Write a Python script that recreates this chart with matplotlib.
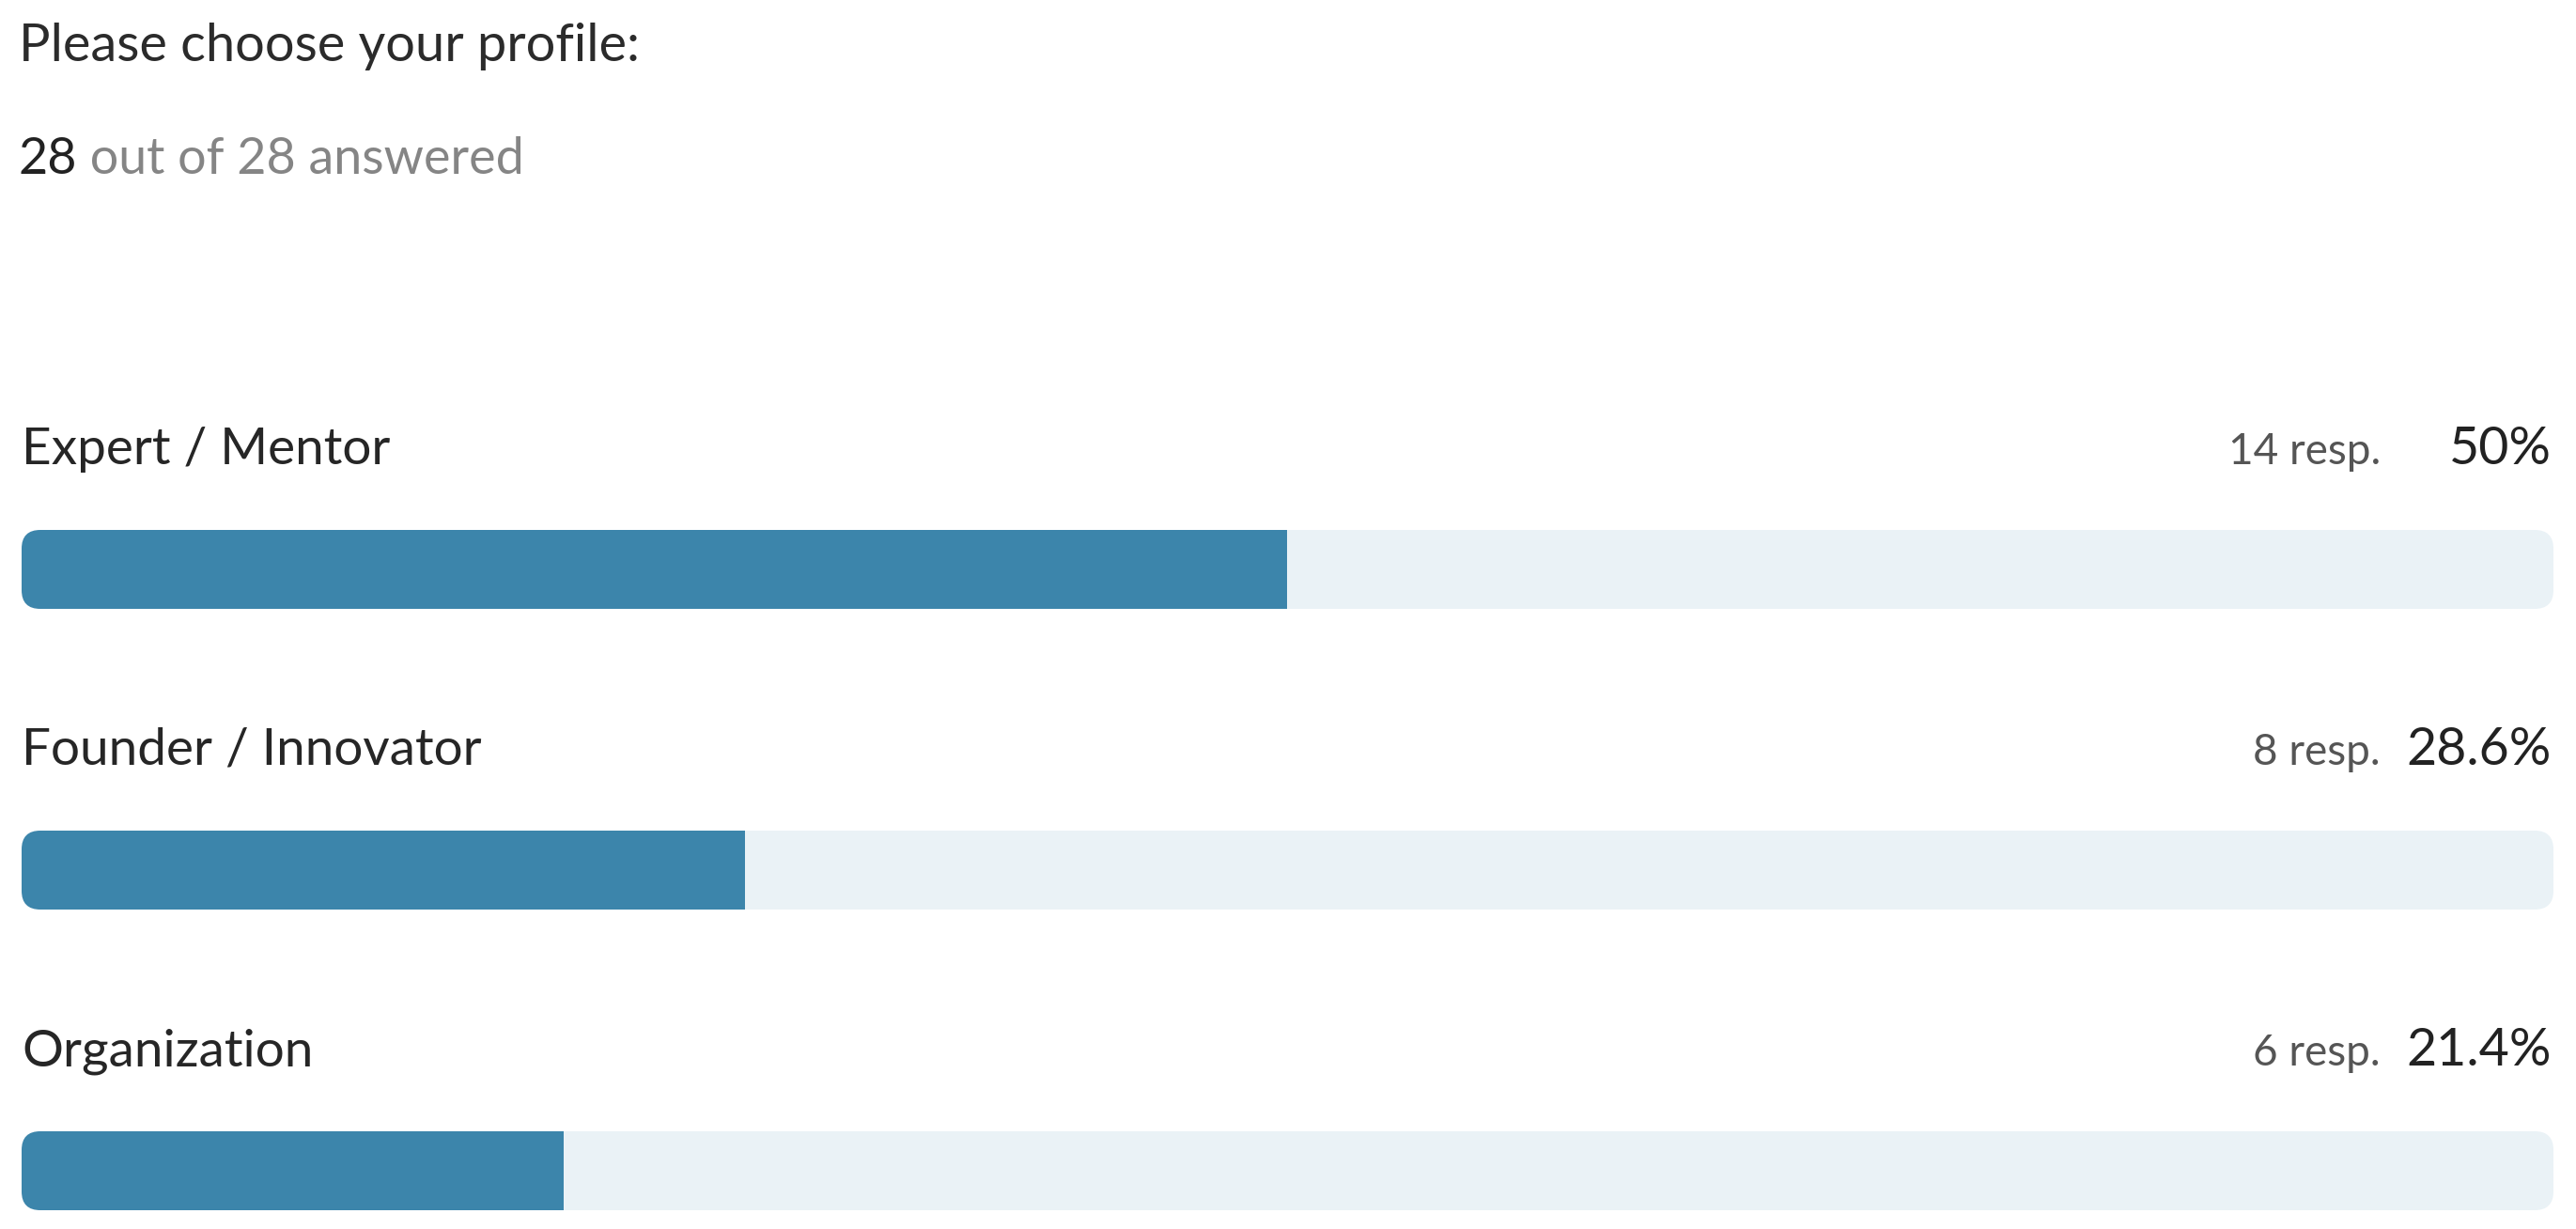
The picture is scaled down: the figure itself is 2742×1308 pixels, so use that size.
import matplotlib.pyplot as plt
from matplotlib.patches import FancyBboxPatch

plt.rcParams['font.family'] = ['Lato', 'DejaVu Sans']

# Survey data
question = "Please choose your profile:"
answered = 28
total = 28
categories = ['Expert / Mentor', 'Founder / Innovator', 'Organization']
responses = [14, 8, 6]

blue = '#3c85ab'
track = '#eaf2f6'

W, H = 2742, 1308
fig = plt.figure(figsize=(W / 100, H / 100), dpi=100)
fig.patch.set_facecolor('white')

# axes spans the bar track horizontally (0..100 %), figure pixels vertically
left_px, right_px = 23, 2718
ax = fig.add_axes([left_px / W, 0, (right_px - left_px) / W, 1])
ax.set_xlim(0, 100)
ax.set_ylim(H, 0)
ax.axis('off')

px_per_unit = (right_px - left_px) / 100
bar_h = 84
first_top = 564
row_gap = 320

# header
fig.text(20 / W, 1 - 65 / H, question, fontsize=40.2, color='#2b2b2b',
         va='baseline', ha='left')
t1 = fig.text(20 / W, 1 - 185 / H, str(answered), fontsize=38.8, color='#222222',
              va='baseline', ha='left')
ax.annotate(f" out of {total} answered", xy=(1, 0), xycoords=t1,
            fontsize=38.8, color='#858585', va='bottom', ha='left')

for i, (cat, n) in enumerate(zip(categories, responses)):
    pct = n / total * 100
    top = first_top + i * row_gap

    bg = FancyBboxPatch((0, top), 100, bar_h,
                        boxstyle=f"round,pad=0,rounding_size={20 / px_per_unit}",
                        mutation_aspect=px_per_unit,
                        facecolor=track, edgecolor='none', zorder=1)
    ax.add_patch(bg)
    bars = ax.barh(top + bar_h / 2, pct, height=bar_h, left=0,
                   color=blue, zorder=2)
    for b in bars:
        b.set_clip_path(bg)

    base = top - 70
    ax.text(0, base, cat, fontsize=39.5, color='#262626',
            va='baseline', ha='left')
    ax.text((2534 - left_px) / px_per_unit, base, f"{n} resp.", fontsize=33,
            color='#555555', va='baseline', ha='right')
    ax.text((2716 - left_px) / px_per_unit, base, f"{round(pct, 1):g}%",
            fontsize=40, color='#222222', va='baseline', ha='right')

plt.savefig('out.png', dpi=100, facecolor='white')
